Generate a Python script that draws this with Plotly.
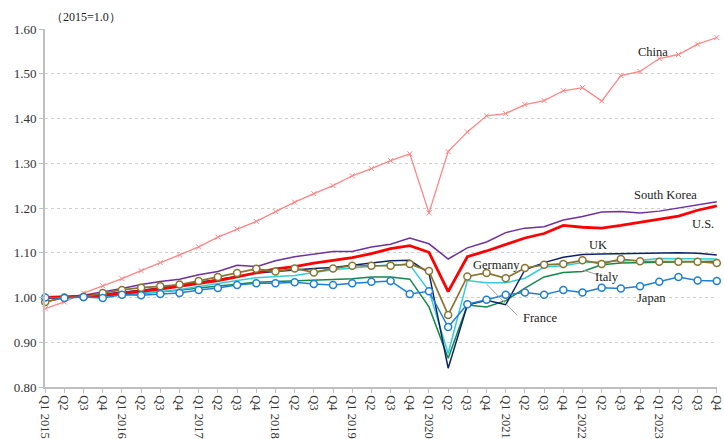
import plotly.graph_objects as go

# Quarterly real GDP index, 2015 = 1.0
quarters = []
for yr in range(2015, 2024):
    for q in range(1, 5):
        quarters.append(f"Q{q} {yr}" if q == 1 else f"Q{q}")

china = [0.975, 0.990, 1.010, 1.026, 1.042, 1.060, 1.078, 1.095, 1.113, 1.135, 1.153, 1.170,
         1.192, 1.213, 1.232, 1.250, 1.272, 1.288, 1.306, 1.321, 1.189, 1.326, 1.370, 1.406,
         1.411, 1.431, 1.440, 1.462, 1.469, 1.439, 1.496, 1.505, 1.534, 1.543, 1.566, 1.581]
south_korea = [0.990, 1.000, 1.005, 1.012, 1.020, 1.029, 1.036, 1.041, 1.051, 1.058, 1.072, 1.069,
               1.082, 1.091, 1.097, 1.103, 1.103, 1.113, 1.119, 1.133, 1.120, 1.086, 1.111, 1.124,
               1.145, 1.155, 1.158, 1.173, 1.181, 1.191, 1.192, 1.189, 1.193, 1.200, 1.208, 1.214]
us = [1.000, 1.001, 1.003, 1.005, 1.009, 1.014, 1.019, 1.025, 1.032, 1.038, 1.046, 1.055,
      1.064, 1.069, 1.077, 1.083, 1.089, 1.098, 1.109, 1.116, 1.101, 1.013, 1.091, 1.104,
      1.118, 1.133, 1.143, 1.161, 1.157, 1.155, 1.161, 1.168, 1.175, 1.182, 1.195, 1.205]
uk = [0.997, 1.001, 1.004, 1.007, 1.011, 1.016, 1.021, 1.027, 1.033, 1.040, 1.047, 1.055,
      1.058, 1.062, 1.065, 1.067, 1.072, 1.076, 1.082, 1.083, 1.055, 0.842, 0.983, 0.994,
      0.984, 1.062, 1.078, 1.090, 1.096, 1.097, 1.098, 1.099, 1.100, 1.100, 1.099, 1.095]
germany = [0.990, 1.000, 1.001, 1.010, 1.017, 1.022, 1.025, 1.029, 1.037, 1.046, 1.055, 1.064,
           1.058, 1.065, 1.056, 1.065, 1.071, 1.071, 1.071, 1.075, 1.059, 0.961, 1.047, 1.055,
           1.043, 1.066, 1.073, 1.075, 1.083, 1.075, 1.086, 1.081, 1.080, 1.080, 1.080, 1.077]
france = [0.998, 1.000, 1.002, 1.004, 1.008, 1.010, 1.013, 1.018, 1.025, 1.031, 1.038, 1.044,
          1.046, 1.049, 1.056, 1.062, 1.066, 1.069, 1.073, 1.073, 1.015, 0.875, 1.038, 1.033,
          1.033, 1.043, 1.068, 1.071, 1.078, 1.080, 1.082, 1.083, 1.087, 1.087, 1.087, 1.086]
italy = [0.998, 1.000, 1.002, 1.003, 1.006, 1.009, 1.012, 1.016, 1.021, 1.025, 1.030, 1.034,
         1.036, 1.037, 1.039, 1.040, 1.042, 1.046, 1.046, 1.041, 0.979, 0.864, 0.983, 0.979,
         0.993, 1.021, 1.046, 1.056, 1.058, 1.073, 1.077, 1.078, 1.078, 1.080, 1.080, 1.081]
japan = [1.000, 0.999, 1.001, 0.999, 1.006, 1.005, 1.008, 1.010, 1.017, 1.021, 1.028, 1.032,
         1.032, 1.034, 1.030, 1.028, 1.032, 1.035, 1.037, 1.008, 1.014, 0.934, 0.985, 0.995,
         1.006, 1.011, 1.006, 1.017, 1.011, 1.022, 1.020, 1.025, 1.035, 1.046, 1.038, 1.037]

y_ticks = [0.80, 0.90, 1.00, 1.10, 1.20, 1.30, 1.40, 1.50, 1.60]

x = list(range(len(quarters)))
SERIF = "Liberation Serif, Times New Roman, serif"

fig = go.Figure()

def add_line(vals, color, width, marker=None):
    kw = dict(x=x, y=vals, mode="lines", line=dict(color=color, width=width),
              hoverinfo="skip", cliponaxis=False, showlegend=False)
    if marker is not None:
        kw["mode"] = "lines+markers"
        kw["marker"] = marker
    fig.add_trace(go.Scatter(**kw))

add_line(china, "#FF8585", 1.3,
         dict(symbol="x-thin-open", size=5, line=dict(color="#FF8585", width=1)))
add_line(south_korea, "#7030A0", 1.5)
add_line(italy, "#13894A", 1.5)
add_line(france, "#33CCDD", 1.5)
add_line(uk, "#0B2468", 1.5)
add_line(us, "#FF0000", 2.8)
add_line(germany, "#8B7330", 1.7,
         dict(symbol="circle", size=7, color="white", line=dict(color="#8B7330", width=1.5)))
add_line(japan, "#1F7FD4", 1.5,
         dict(symbol="circle", size=7, color="white", line=dict(color="#1F7FD4", width=1.5)))

# Series labels
labels = [
    ("China", 31.7, 1.549),
    ("South Korea", 32.3, 1.230),
    ("U.S.", 34.3, 1.165),
    ("UK", 28.8, 1.118),
    ("Germany", 23.5, 1.073),
    ("Italy", 29.3, 1.046),
    ("France", 25.8, 0.954),
    ("Japan", 31.6, 0.999),
]
for text, lx, ly in labels:
    fig.add_annotation(x=lx, y=ly, text=text, showarrow=False,
                       font=dict(family=SERIF, size=12.5, color="#222222"))

# Leader lines for Italy and France
fig.add_shape(type="line", x0=28.05, y0=1.061, x1=29.0, y1=1.048,
              line=dict(color="#A0A0A0", width=1))
fig.add_shape(type="line", x0=23.0, y0=1.030, x1=24.6, y1=0.960,
              line=dict(color="#A0A0A0", width=1))

fig.add_annotation(xref="paper", yref="paper", x=0.0, y=1.0, xshift=4, yshift=3,
                   xanchor="left", yanchor="bottom", text="（2015=1.0）",
                   showarrow=False, font=dict(family=SERIF, size=12, color="#222222"))

fig.update_layout(
    width=724, height=439,
    margin=dict(l=45, r=7, t=29, b=52),
    paper_bgcolor="white", plot_bgcolor="white",
    font=dict(family=SERIF, size=12, color="#333333"),
)
fig.update_xaxes(
    range=[-0.01, len(quarters) - 1 + 0.01],
    automargin=False,
    tickmode="array", tickvals=x, ticktext=quarters, tickangle=90,
    showgrid=False, zeroline=False,
    showline=True, linecolor="#BFBFBF", linewidth=1.5,
    ticks="outside", ticklen=4, tickcolor="#BFBFBF",
    tickfont=dict(family=SERIF, size=12.5, color="#333333"),
)
fig.update_yaxes(
    range=[0.80, 1.60],
    automargin=False,
    tickmode="array", tickvals=y_ticks, ticktext=[f"{v:.2f}" for v in y_ticks],
    showgrid=True, gridcolor="#D0D0D0", griddash="dot", gridwidth=1,
    zeroline=False,
    showline=True, linecolor="#BFBFBF", linewidth=2,
    ticks="outside", ticklen=4, tickcolor="#BFBFBF",
    tickfont=dict(family=SERIF, size=13, color="#333333"),
)

fig.write_html("out.html")
